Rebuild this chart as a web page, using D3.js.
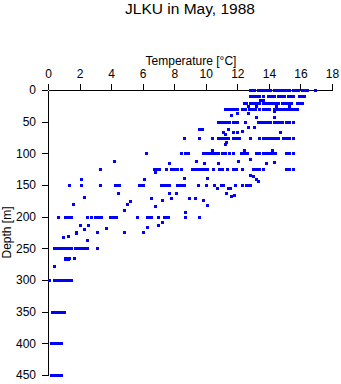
<!DOCTYPE html>
<html>
<head>
<meta charset="utf-8">
<script src="https://cdn.jsdelivr.net/npm/d3@7"></script>
<style>
  html, body { margin: 0; padding: 0; background: #fff; }
  svg { display: block; font-family: "Liberation Sans", Arial, Helvetica, sans-serif; }
</style>
</head>
<body>
<svg id="chart" width="341" height="384"></svg>
<script>
// ---- Data ----
const chartTitle = "JLKU in May, 1988";
const xLabel = "Temperature [°C]";
const yLabel = "Depth [m]";
const xTicks = [0, 2, 4, 6, 8, 10, 12, 14, 16, 18];
const yTicks = [0, 50, 100, 150, 200, 250, 300, 350, 400, 450];

// standard sampling depths and temperatures observed at each
const levelDepths = [0, 10, 20, 30, 50, 75, 100, 125, 150, 200, 250, 300, 350, 400, 450];
const levelTemps = [
  [12.8, 12.95, 13.05, 13.3, 13.5, 13.7, 13.9, 14.1, 14.3, 14.5, 14.7, 14.9, 15.1, 15.3, 15.5, 15.7, 15.85, 16.1, 16.25, 16.4, 16.95],
  [12.8, 13.0, 13.2, 13.4, 13.6, 13.95, 14.15, 14.35, 14.55, 14.75, 14.95, 15.2, 15.4, 15.55, 15.9, 16.05, 16.2],
  [12.4, 12.55, 12.8, 13.0, 13.2, 13.4, 13.6, 13.8, 14.0, 14.2, 14.4, 14.6, 14.8, 15.0, 15.2, 15.4, 15.8, 15.95, 16.1],
  [11.2, 11.4, 11.6, 11.8, 12.0, 12.3, 12.5, 12.75, 12.95, 13.1, 13.4, 13.6, 13.8, 14.0, 14.3, 14.5, 14.65, 14.85, 15.05, 15.2, 15.4, 15.6, 15.8],
  [10.8, 10.95, 11.1, 11.25, 11.5, 11.7, 11.85, 12.0, 12.5, 13.3, 13.5, 13.7, 13.9, 14.1, 14.3, 14.5, 14.7, 14.85, 15.1, 15.3, 15.5],
  [8.6, 9.6, 10.4, 10.8, 10.95, 11.1, 11.2, 11.4, 11.7, 11.85, 12.0, 12.1, 12.8, 13.4, 13.6, 13.8, 14.0, 14.2, 14.4, 14.6, 14.9, 15.1, 15.3, 15.5],
  [6.2, 8.4, 8.7, 8.9, 9.8, 10.0, 10.2, 10.4, 10.6, 10.8, 11.0, 11.2, 11.5, 11.7, 12.25, 12.4, 12.6, 13.2, 13.4, 13.6, 13.8, 14.0, 14.2, 14.4, 15.1, 15.3, 15.5],
  [3.3, 6.7, 6.9, 7.05, 7.5, 7.8, 8.0, 8.15, 8.4, 9.1, 9.3, 9.5, 9.7, 9.9, 10.05, 10.45, 10.85, 11.0, 11.35, 11.7, 11.9, 12.3, 13.0, 13.2, 13.4, 13.6, 15.1, 15.3, 15.5],
  [1.35, 2.07, 3.3, 4.25, 4.4, 4.5, 5.75, 5.9, 6.0, 7.15, 7.3, 7.45, 7.65, 8.2, 8.35, 8.5, 8.65, 9.5, 10.0, 10.55, 10.95, 11.1, 11.85, 12.3, 12.55, 12.7, 12.8],
  [0.65, 1.1, 1.25, 1.45, 2.5, 2.7, 3.0, 3.2, 3.35, 3.95, 4.1, 4.3, 5.65, 6.25, 6.4, 6.55, 6.95, 7.35, 7.5, 7.6, 8.7, 9.6],
  [0.4, 0.55, 0.7, 0.85, 1.0, 1.15, 1.3, 1.45, 1.7, 1.85, 2.0, 2.15, 2.3, 2.45, 3.1],
  [0.08, 0.35, 0.6, 0.75, 0.9, 1.05, 1.2, 1.35, 1.45],
  [0.27, 0.42, 0.57, 0.72, 0.87, 1.02],
  [0.2, 0.35, 0.5, 0.65, 0.85],
  [0.2, 0.35, 0.5, 0.65, 0.85]
];

// observations at intermediate depths
const extraDepths = [15, 15, 25, 25, 25, 25, 33, 39, 37, 36, 43, 43,
  58, 58, 61, 61, 61, 66, 66, 65, 69, 67, 66,
  82, 86, 94, 94, 94,
  109, 112, 112, 112, 116, 116, 116, 116, 114,
  130, 134, 136, 140, 141, 139.5, 139.5, 141, 144,
  155, 155, 155, 162, 162, 162, 163, 165, 169, 171, 168, 171, 171, 171, 173, 174, 176, 179.5, 179.5, 183, 182, 190, 193,
  209, 213, 213, 216, 213, 219, 218, 224, 226, 224, 224, 224, 232, 231, 237,
  265, 265, 265, 267, 267, 266, 278];
const extraTemps = [13.45, 13.6, 12.7, 13.2, 14.45, 15.3, 14.3, 11.6, 12.0, 12.7, 13.2, 14.3,
  12.7, 13.05, 9.6, 9.75, 11.4, 11.7, 12.0, 12.3, 11.2, 11.1, 14.7,
  11.3, 11.2, 10.4, 12.4, 14.2,
  12.8, 9.4, 12.05, 4.2, 7.7, 9.9, 10.8, 13.8, 14.3,
  6.8, 12.8, 13.0, 2.07, 6.1, 8.6, 10.1, 13.2, 13.3,
  10.7, 11.4, 11.55, 7.7, 8.1, 11.3, 4.45, 11.8, 2.3, 6.5, 11.6, 7.8, 8.95, 9.3, 9.8, 7.2, 5.2, 1.56, 5.0, 6.8, 10.1, 4.8, 8.7,
  7.2, 2.0, 2.55, 6.3, 7.0, 2.3, 3.7, 1.8, 1.8, 3.1, 4.8, 6.0, 0.97, 1.29, 2.5,
  1.05, 1.2, 1.35, 1.1, 1.25, 1.67, 0.38];

// ---- Build point table ----
const points = [];
levelDepths.forEach((d, i) => levelTemps[i].forEach(t => points.push({t, d})));
extraDepths.forEach((d, i) => points.push({t: extraTemps[i], d}));

// ---- Chart ----
const svg = d3.select("#chart");
const x = d3.scaleLinear().domain([0, 18]).range([48, 332]);
const y = d3.scaleLinear().domain([0, 450]).range([90, 375]);

svg.append("text")
  .attr("x", 190).attr("y", 13.5)
  .attr("text-anchor", "middle")
  .attr("font-size", 15.5)
  .attr("fill", "#000")
  .text(chartTitle);

const xAxis = svg.append("g")
  .attr("transform", "translate(0,90)")
  .call(d3.axisTop(x).tickValues(xTicks).tickSize(6).tickSizeOuter(0).tickPadding(6).tickFormat(d3.format("d")));
xAxis.selectAll("text").attr("font-size", 12).attr("fill", "#000").style("font-family", "inherit");

const yAxis = svg.append("g")
  .attr("transform", "translate(48,0)")
  .call(d3.axisLeft(y).tickValues(yTicks).tickSize(6).tickSizeOuter(0).tickPadding(6).tickFormat(d3.format("d")));
yAxis.selectAll("text").attr("font-size", 12).attr("fill", "#000").style("font-family", "inherit");

svg.selectAll(".domain, .tick line").attr("stroke", "#000").attr("shape-rendering", "crispEdges");

svg.append("text")
  .attr("x", 191).attr("y", 65)
  .attr("text-anchor", "middle")
  .attr("font-size", 12)
  .text(xLabel);

svg.append("text")
  .attr("transform", "translate(10.5,232.5) rotate(-90)")
  .attr("text-anchor", "middle")
  .attr("font-size", 12)
  .text(yLabel);

const marker = "M-1,-1h3v3h-3z";
svg.append("g")
  .selectAll("path")
  .data(points)
  .join("path")
  .attr("d", marker)
  .attr("transform", p => `translate(${Math.round(x(p.t))},${Math.round(y(p.d))})`)
  .attr("fill", "#0000ff")
  .attr("shape-rendering", "crispEdges");
</script>
</body>
</html>
